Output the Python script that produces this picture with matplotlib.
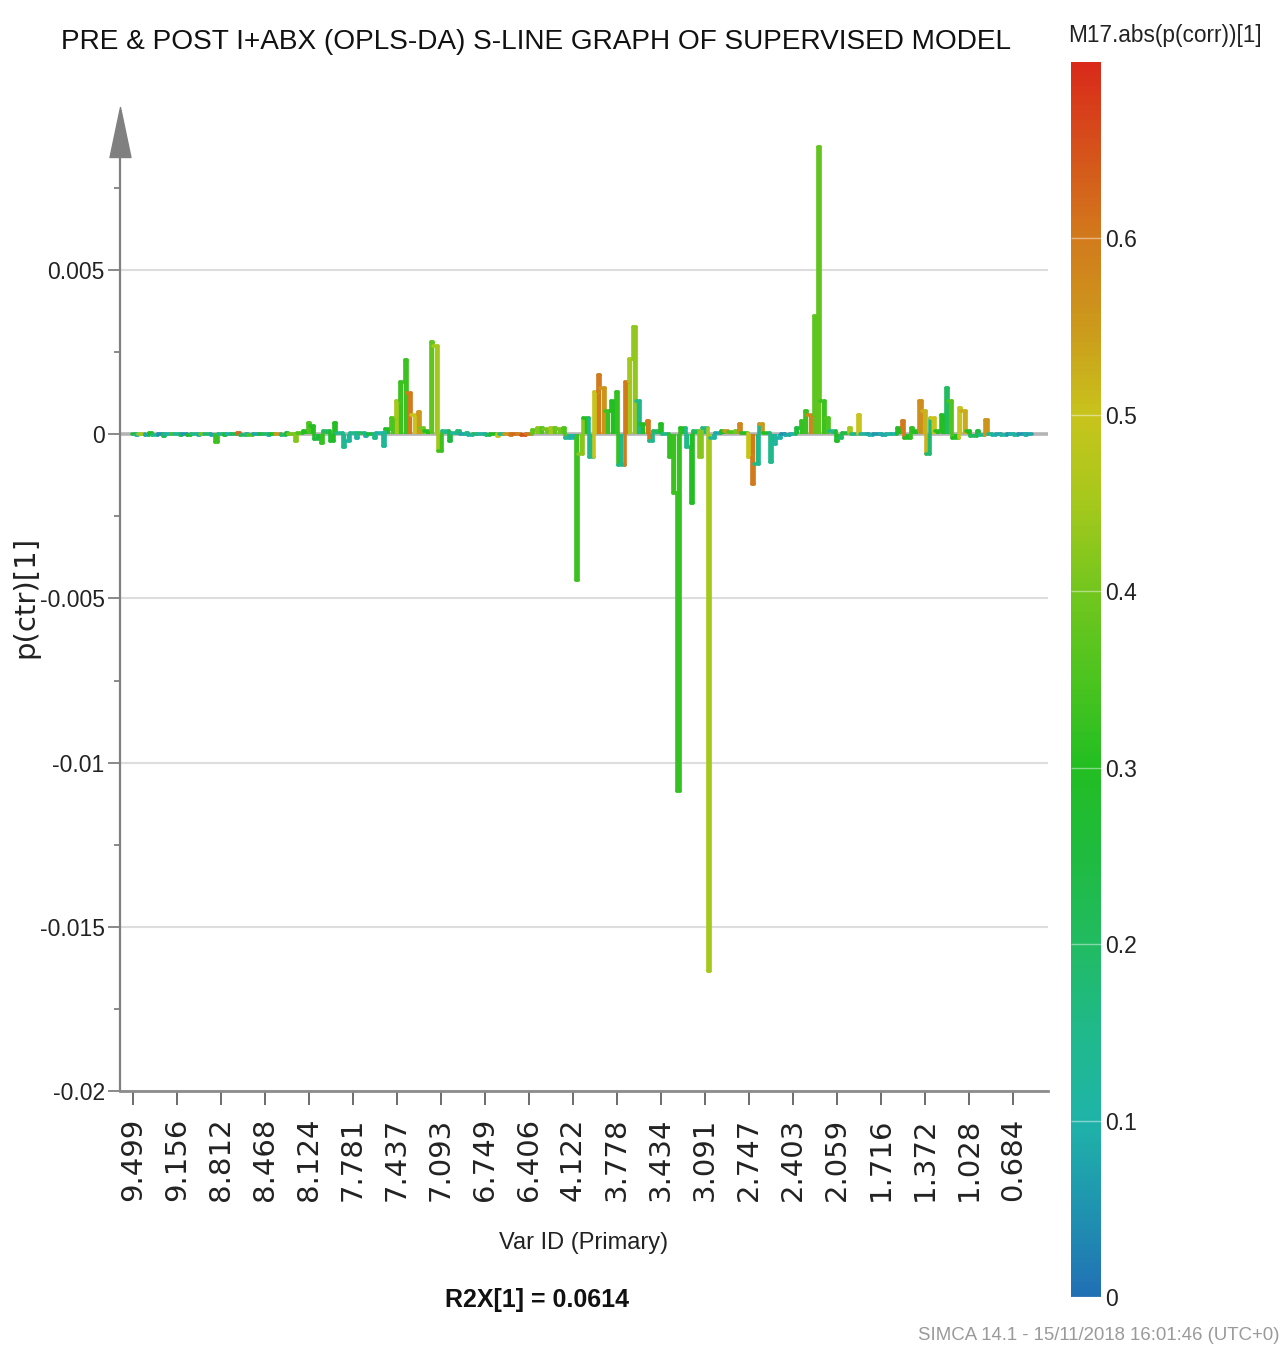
import numpy as np
import matplotlib.pyplot as plt
from matplotlib.collections import LineCollection
from matplotlib.colors import LinearSegmentedColormap, Normalize
from matplotlib.cm import ScalarMappable
from matplotlib.path import Path

# Fonter
smal = ['Liberation Sans', 'DejaVu Sans']
bred = ['DejaVu Sans']

# Variabel-ID som vises langs x-aksen (hver 10. variabel)
var_etiketter = ['9.499', '9.156', '8.812', '8.468', '8.124', '7.781', '7.437',
                 '7.093', '6.749', '6.406', '4.122', '3.778', '3.434', '3.091',
                 '2.747', '2.403', '2.059', '1.716', '1.372', '1.028', '0.684']
steg = 10

# p(ctr)[1] for hver variabel, en rad per etikett-intervall
p_ctr = [
    0.00002, -0.00003, 0.00001, -0.00002, 0.00003, -0.00001, 0.00002, -0.00004, 0.00001, 0.00002,
    0.00001, -0.00002, 0.00002, -0.00001, 0.00001, -0.00003, 0.00002, 0.00001, -0.00002, -0.00022,
    0.00001, -0.00002, 0.00002, 0.00000, 0.00003, -0.00001, 0.00002, -0.00002, 0.00001, 0.00002,
    0.00001, -0.00002, 0.00002, 0.00001, -0.00002, 0.00003, 0.00002, -0.00020, 0.00005, 0.00010,
    0.00034, 0.00025, -0.00015, -0.00027, 0.00010, -0.00020, 0.00033, 0.00005, -0.00040, -0.00020,
    0.00005, -0.00010, 0.00003, -0.00005, 0.00002, -0.00012, 0.00004, -0.00035, 0.00015, 0.00050,
    0.00100, 0.00160, 0.00226, 0.00125, 0.00060, 0.00067, 0.00020, 0.00010, 0.00280, 0.00270,
    -0.00050, 0.00010, -0.00020, 0.00005, 0.00010, 0.00002, 0.00005, -0.00003, 0.00002, 0.00001,
    0.00002, -0.00002, 0.00001, -0.00004, 0.00002, 0.00001, -0.00002, 0.00002, 0.00001, -0.00001,
    0.00001, 0.00012, 0.00018, 0.00020, 0.00015, 0.00018, 0.00020, 0.00016, 0.00018, -0.00010,
    -0.00010, -0.00445, -0.00060, 0.00050, -0.00070, 0.00130, 0.00180, 0.00140, 0.00070, 0.00100,
    0.00130, -0.00095, 0.00160, 0.00230, 0.00326, 0.00100, 0.00030, 0.00040, -0.00020, 0.00010,
    0.00030, 0.00000, -0.00070, -0.00180, -0.01085, 0.00020, -0.00040, -0.00210, 0.00010, -0.00070,
    0.00020, -0.01634, -0.00010, 0.00005, 0.00010, 0.00010, 0.00008, 0.00010, 0.00030, 0.00005,
    -0.00070, -0.00150, -0.00090, 0.00030, 0.00005, -0.00085, -0.00030, -0.00010, 0.00002, -0.00002,
    0.00002, 0.00020, 0.00040, 0.00070, 0.00060, 0.00360, 0.00875, 0.00100, 0.00050, 0.00010,
    -0.00020, -0.00010, 0.00005, 0.00020, 0.00002, 0.00060, 0.00000, 0.00002, -0.00002, 0.00001,
    0.00002, -0.00002, 0.00001, 0.00000, 0.00020, 0.00040, -0.00010, 0.00020, 0.00010, 0.00100,
    0.00070, -0.00060, 0.00050, 0.00010, 0.00060, 0.00140, 0.00100, -0.00010, 0.00080, 0.00070,
    0.00010, -0.00005, 0.00010, -0.00003, 0.00045, 0.00002, -0.00002, 0.00001, -0.00001, 0.00002,
    0.00002, -0.00001, 0.00001, -0.00002, 0.00001,
]

# abs(p(corr))[1] - styrer fargen
p_corr = [
    0.25, 0.12, 0.45, 0.08, 0.30, 0.15, 0.05, 0.22, 0.10, 0.35,
    0.12, 0.20, 0.06, 0.30, 0.15, 0.10, 0.40, 0.18, 0.08, 0.33,
    0.15, 0.30, 0.10, 0.22, 0.62, 0.20, 0.12, 0.35, 0.08, 0.28,
    0.20, 0.10, 0.30, 0.55, 0.18, 0.25, 0.40, 0.42, 0.35, 0.30,
    0.35, 0.30, 0.25, 0.32, 0.20, 0.28, 0.30, 0.15, 0.15, 0.12,
    0.15, 0.12, 0.20, 0.10, 0.25, 0.15, 0.10, 0.13, 0.30, 0.35,
    0.45, 0.33, 0.33, 0.60, 0.50, 0.55, 0.40, 0.30, 0.38, 0.45,
    0.33, 0.15, 0.25, 0.12, 0.18, 0.08, 0.15, 0.10, 0.20, 0.12,
    0.10, 0.20, 0.30, 0.50, 0.15, 0.55, 0.60, 0.62, 0.58, 0.65,
    0.60, 0.38, 0.42, 0.35, 0.40, 0.45, 0.38, 0.40, 0.35, 0.12,
    0.10, 0.33, 0.42, 0.30, 0.15, 0.50, 0.60, 0.56, 0.33, 0.30,
    0.32, 0.15, 0.60, 0.45, 0.43, 0.15, 0.30, 0.60, 0.15, 0.20,
    0.30, 0.15, 0.32, 0.33, 0.32, 0.30, 0.15, 0.30, 0.20, 0.42,
    0.15, 0.45, 0.12, 0.08, 0.30, 0.55, 0.35, 0.40, 0.58, 0.30,
    0.50, 0.60, 0.15, 0.55, 0.30, 0.15, 0.12, 0.10, 0.05, 0.08,
    0.10, 0.25, 0.32, 0.33, 0.58, 0.37, 0.38, 0.33, 0.35, 0.15,
    0.30, 0.20, 0.25, 0.45, 0.15, 0.50, 0.12, 0.08, 0.10, 0.06,
    0.10, 0.08, 0.12, 0.10, 0.30, 0.60, 0.30, 0.32, 0.30, 0.57,
    0.52, 0.18, 0.50, 0.30, 0.30, 0.20, 0.35, 0.30, 0.50, 0.53,
    0.30, 0.20, 0.25, 0.15, 0.56, 0.15, 0.10, 0.08, 0.12, 0.06,
    0.10, 0.12, 0.06, 0.10, 0.08,
]

# SIMCA-lignende fargeskala 0 -> 0.7
farger = [(0.00, '#2170b4'), (0.05, '#1f94b0'), (0.10, '#1fb4a8'), (0.15, '#20b98a'),
          (0.20, '#21bb62'), (0.25, '#1fbb3f'), (0.30, '#22be22'), (0.35, '#4cc41f'),
          (0.40, '#73c61e'), (0.45, '#a5c81c'), (0.50, '#c8c41c'), (0.55, '#cc9a1c'),
          (0.60, '#d27b1c'), (0.70, '#d92a1a')]
cmax = 0.70
cmap = LinearSegmentedColormap.from_list('simca', [(v / cmax, f) for v, f in farger])
norm = Normalize(0, cmax)

fig = plt.figure(figsize=(12.86, 13.51), dpi=100)
ax = fig.add_axes([0.0933, 0.19245, 0.7216, 0.70985])

v = np.array(p_ctr)
c = np.array(p_corr)
n = len(v)
idx = np.arange(n)

# Trappelinje: overgangen mellom to variabler legges tett inntil den største
grenser = []
for i in range(n - 1):
    grenser.append(i + 0.75 if abs(v[i + 1]) > abs(v[i]) else i + 0.25)
venstre = [-0.3] + grenser
hoyre = grenser + [n - 0.7]

segs = []
segfarger = []
for i in range(n):
    segs.append([(venstre[i], v[i]), (hoyre[i], v[i])])
    segfarger.append(c[i])
    if i < n - 1:
        segs.append([(grenser[i], v[i]), (grenser[i], v[i + 1])])
        segfarger.append(c[i] if abs(v[i]) >= abs(v[i + 1]) else c[i + 1])

# Fyll fra null opp til verdien for hver variabel
ax.vlines(idx, 0, v, colors=cmap(norm(c)), linewidth=3.1, zorder=3)

lc = LineCollection(segs, cmap=cmap, norm=norm, linewidths=2.6, capstyle='round', zorder=3)
lc.set_array(np.array(segfarger))
ax.add_collection(lc)

# Nullinje og rutenett
ax.axhline(0, color='#b4b4b4', lw=2.6, zorder=2)
for y in [-0.02, -0.015, -0.01, -0.005, 0.005]:
    ax.axhline(y, color='#dddddd', lw=1.5, zorder=1)

ax.set_xlim(-2.955, 207.95)
ax.set_ylim(-0.02, 0.009207)

ax.set_xticks(np.arange(len(var_etiketter)) * steg)
ax.set_xticklabels(var_etiketter, rotation=90, family=bred, fontsize=21, color='#222222')
ax.set_yticks([-0.02, -0.015, -0.01, -0.005, 0, 0.005])
ax.set_yticklabels(['-0.02', '-0.015', '-0.01', '-0.005', '0', '0.005'],
                   family=smal, fontsize=16.5, color='#222222')
ax.set_yticks([-0.0175, -0.0125, -0.0075, -0.0025, 0.0025, 0.0075], minor=True)
ax.tick_params(axis='y', which='major', length=9, width=1.3, color='#808080', pad=2)
ax.tick_params(axis='y', which='minor', length=4.5, width=1.3, color='#808080')
ax.tick_params(axis='x', length=10, width=1.3, color='#606060', pad=9)

for s in ['top', 'right']:
    ax.spines[s].set_visible(False)
ax.spines['left'].set_color('#808080')
ax.spines['left'].set_linewidth(1.6)
ax.spines['bottom'].set_color('#8c8c8c')
ax.spines['bottom'].set_linewidth(2)

# Pil på toppen av y-aksen
pil = Path([(0, 1), (-0.42, -1), (0.42, -1), (0, 1)],
           [Path.MOVETO, Path.LINETO, Path.LINETO, Path.CLOSEPOLY])
ax.plot(0, 1, marker=pil, markersize=36, color='#808080',
        transform=ax.transAxes, clip_on=False, zorder=5)

# Fargeskala
cax = fig.add_axes([0.8328, 0.04, 0.0233, 0.9142])
sm = ScalarMappable(norm=norm, cmap=cmap)
cb = fig.colorbar(sm, cax=cax, ticks=[0, 0.1, 0.2, 0.3, 0.4, 0.5, 0.6])
cb.outline.set_visible(False)
cax.set_yticklabels(['0', '0.1', '0.2', '0.3', '0.4', '0.5', '0.6'],
                    family=smal, fontsize=16.5, color='#222222')
cax.tick_params(direction='in', length=21.6, width=1, color=(1, 1, 1, 0.45), pad=3)

# Tekster
fig.text(0.4168, 0.9689, 'PRE & POST I+ABX (OPLS-DA) S-LINE GRAPH OF SUPERVISED MODEL',
         ha='center', va='center', family=smal, fontsize=20.2, color='#111111')
fig.text(0.8305, 0.974, 'M17.abs(p(corr))[1]', ha='left', va='center',
         family=smal, fontsize=16.3, color='#222222')
fig.text(0.0194, 0.558, 'p(ctr)[1]', rotation=90, ha='center', va='center',
         family=bred, fontsize=21, color='#222222')
fig.text(0.4541, 0.0799, 'Var ID (Primary)', ha='center', va='center',
         family=smal, fontsize=17, color='#222222')
fig.text(0.4176, 0.0377, 'R2X[1] = 0.0614', ha='center', va='center',
         family=smal, fontsize=18, weight='bold', color='#111111')
fig.text(0.9953, 0.0118, 'SIMCA 14.1 - 15/11/2018 16:01:46 (UTC+0)', ha='right', va='center',
         family=smal, fontsize=13.4, color='#9a9a9a')

fig.savefig('out.png', dpi=100)
